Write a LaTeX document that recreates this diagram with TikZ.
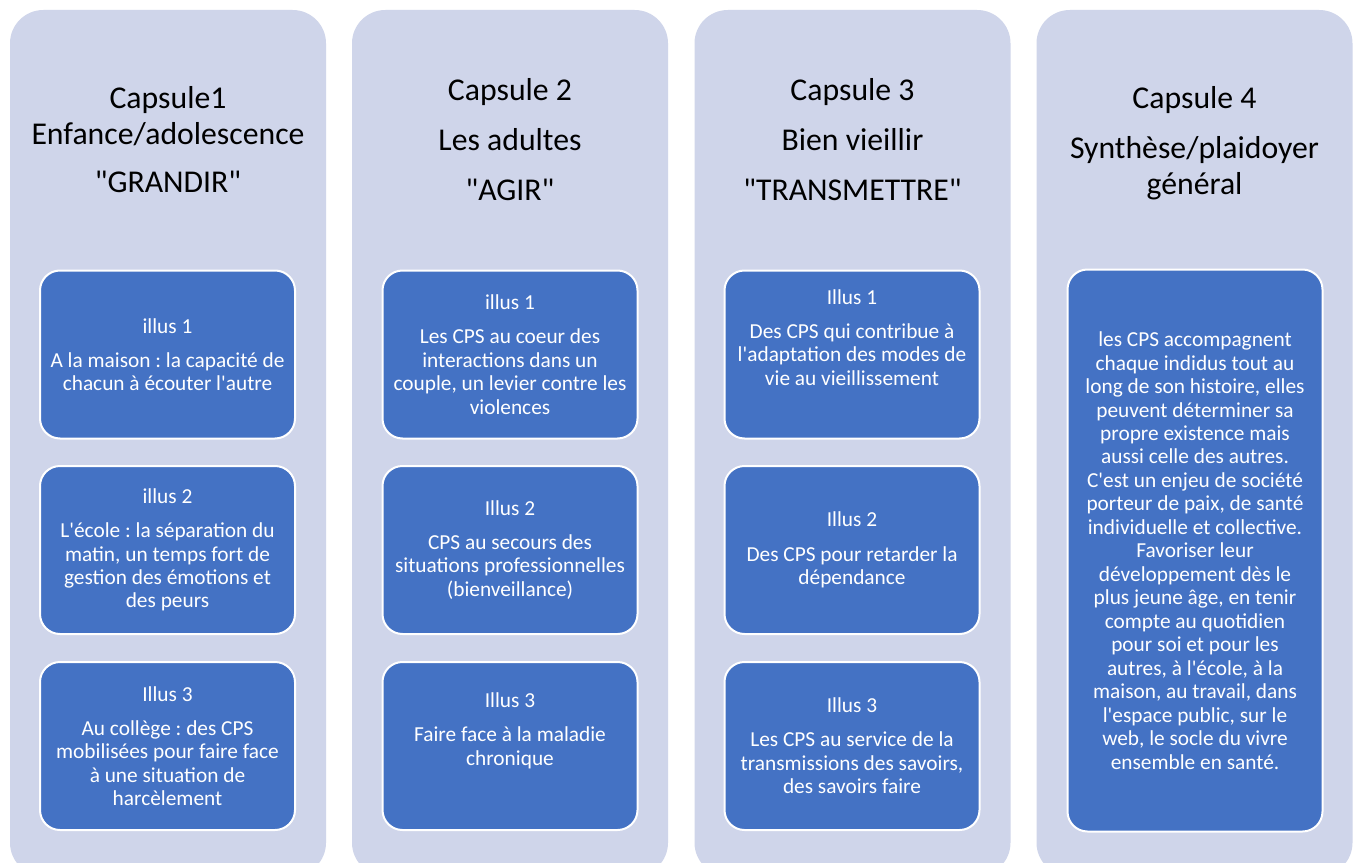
\documentclass[tikz,border=0pt]{standalone}
\usepackage{fontspec}
\newfontfamily\carlito{Carlito}
\definecolor{capsulebg}{RGB}{207,213,234}
\definecolor{illusblue}{RGB}{68,114,196}
\frenchspacing

\begin{document}
\begin{tikzpicture}[x=0.75pt,y=0.75pt,yscale=-1,
	capsule/.style={fill=capsulebg, rounded corners=25pt, minimum width=237pt, minimum height=649.5pt, inner sep=0pt},
	illus/.style={fill=illusblue, draw=white, line width=1.5pt, rounded corners=15pt, minimum width=191.25pt, minimum height=126pt, inner sep=0pt, text=white, align=flush center, text width=186pt, font=\carlito\fontsize{16}{17.6}\selectfont},
	titre/.style={align=flush center, text width=232pt, anchor=base, inner sep=0pt, font=\carlito\fontsize{23.8}{26.5}\selectfont}]
	\useasboundingbox [fill=white] (0,0) rectangle (1360,863);
	\clip (0,0) rectangle (1360,863);
	
	%Shape: Rounded Rect
	\node [capsule] (caps1) at (168,443) {};
	\node [capsule] (caps2) at (510,443) {};
	\node [capsule] (caps3) at (852.5,443) {};
	\node [capsule] (caps4) at (1194.5,443) {};
	
	% Text Node
	\node [titre] (titre1) at (168,109) {Capsule1\\Enfance/adolescence\\[9.5pt]"GRANDIR"};
	% Text Node
	\node [titre] (titre2) at (510,101) {Capsule 2\\[11pt]Les adultes\\[11pt]"AGIR"};
	% Text Node
	\node [titre] (titre3) at (852.5,101) {Capsule 3\\[11pt]Bien vieillir\\[11pt]"TRANSMETTRE"};
	% Text Node
	\node [titre] (titre4) at (1194.5,109) {Capsule 4\\[11pt]Synthèse/plaidoyer\\général};
	
	%Capsule 1
	\node [illus] (illus11) at (167.5,354.5) {illus 1\\[8pt]A la maison : la capacité de\\chacun à écouter l'autre};
	\node [illus] (illus12) at (167.5,550) {illus 2\\[8pt]L'école : la séparation du\\matin, un temps fort de\\gestion des émotions et\\des peurs};
	\node [illus] (illus13) at (167.5,746) {Illus 3\\[8pt]Au collège : des CPS\\mobilisées pour faire face\\à une situation de\\harcèlement};
	
	%Capsule 2
	\node [illus] (illus21) at (510,354.5) {illus 1\\[8pt]Les CPS au coeur des\\interactions dans un\\couple, un levier contre les\\violences};
	\node [illus] (illus22) at (510,550) {Illus 2\\[8pt]CPS au secours des\\situations professionnelles\\(bienveillance)};
	\node [illus] (illus23) at (510,746) {Illus 3\\[8pt]Faire face à la maladie\\chronique\\[8pt]\mbox{}};
	
	%Capsule 3
	\node [illus] (illus31) at (852,354.5) {Illus 1\\[8pt]Des CPS qui contribue à\\l'adaptation des modes de\\vie au vieillissement\\[8pt]\mbox{}};
	\node [illus] (illus32) at (852,550) {Illus 2\\[8pt]Des CPS pour retarder la\\dépendance};
	\node [illus] (illus33) at (852,746) {Illus 3\\[8pt]Les CPS au service de la\\transmissions des savoirs,\\des savoirs faire};
	
	%Capsule 4
	\node [illus, minimum height=421.5pt] (illus4) at (1195,550.5) {les CPS accompagnent\\chaque indidus tout au\\long de son histoire, elles\\peuvent déterminer sa\\propre existence mais\\aussi celle des autres.\\C'est un enjeu de société\\porteur de paix, de santé\\individuelle et collective.\\Favoriser leur\\développement dès le\\plus jeune âge, en tenir\\compte au quotidien\\pour soi et pour les\\autres, à l'école, à la\\maison, au travail, dans\\l'espace public, sur le\\web, le socle du vivre\\ensemble en santé.};
\end{tikzpicture}
\end{document}
